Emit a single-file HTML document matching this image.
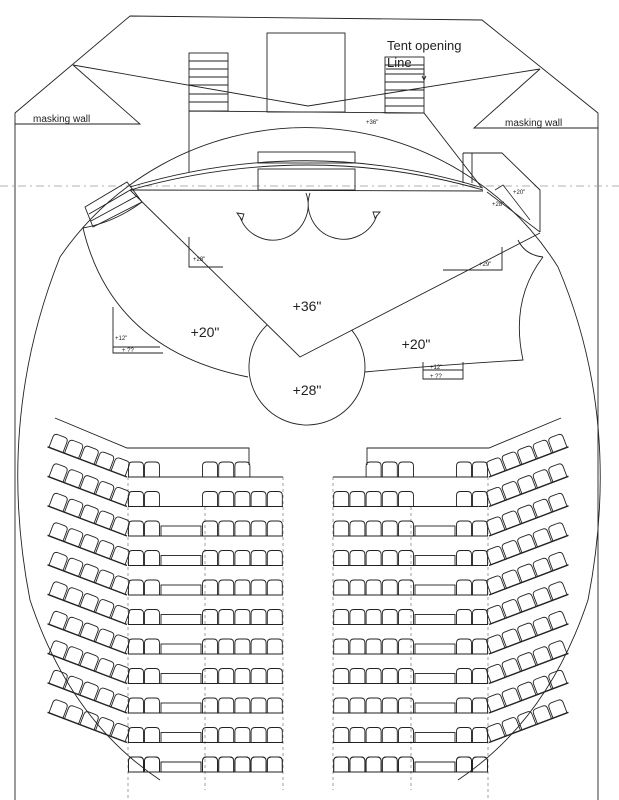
<!DOCTYPE html>
<html><head><meta charset="utf-8"><style>
html,body{margin:0;padding:0;background:#fff;}
svg{display:block;}
text{font-family:"Liberation Sans",sans-serif;fill:#222;}
</style></head><body>
<svg id="s" width="619" height="800" viewBox="0 0 619 800" xmlns="http://www.w3.org/2000/svg" fill="none" stroke="#222" stroke-width="0.9">
<defs>
<symbol id="seat" overflow="visible"><path d="M0.5,0 V-11 Q0.5,-15 4.5,-15 H11.5 Q15.5,-15 15.5,-11 V0"/></symbol>
</defs>
<path d="M130,16 L482,20 L598,113 L598,800 M130,16 L15,113 L15,800"/>
<path d="M0,186 H619" stroke="#999" stroke-dasharray="8,4,2,4" stroke-width="0.8"/>
<path d="M73,65 L308,106 L540,69"/>
<path d="M73,65 L140,124 L15,124"/>
<path d="M540,69 L474,128 L598,128"/>
<text x="33" y="122" font-size="10" stroke="none">masking wall</text>
<text x="505" y="126" font-size="10" stroke="none">masking wall</text>
<path d="M33,124 H100 M505,128 H580" stroke-width="0.8"/>
<rect x="189" y="53" width="39" height="58"/>
<path d="M189,61 H228 M189,69 H228 M189,77 H228 M189,85 H228 M189,94 H228 M189,102 H228"/>
<rect x="267" y="33" width="78" height="79"/>
<rect x="385" y="57" width="39" height="56"/>
<path d="M385,65 H424 M385,74 H424 M385,82 H424 M385,90 H424 M385,98 H424 M385,106 H424"/>
<text x="387" y="50" font-size="13" stroke="none">Tent opening</text>
<text x="387" y="67" font-size="13" stroke="none">Line</text>
<path d="M386,69 H424 V78 M422,76 L424,80 L426,76"/>
<path d="M189,111 L424,113 L482,188 M189,111 V172"/>
<text x="366" y="124" font-size="6" stroke="none">+36"</text>
<rect x="258" y="152" width="97" height="11"/>
<rect x="258" y="169" width="97" height="21"/>
<path d="M130,190 L483,191"/>
<path d="M130,187 Q308,134 483,188 M130,190 Q308,140 483,190"/>
<path d="M463,153 V183 M472,153 V183 M463,153 H502 L540,190 V232"/>
<text x="513" y="194" font-size="6" stroke="none">+20"</text>
<path d="M487,192 L540,232 M495,190 L503,185 L530,220" stroke-width="0.8"/>
<text x="492" y="206" font-size="6" stroke="none">+28"</text>
<path d="M85,207 L127,182 L142,202 L93,227 Z M89,214 L132,189 M91,221 L137,196"/>
<path d="M60,257 A298,298 0 0 1 558,267"/>
<path d="M60,257 Q-5,420 30,600 Q70,720 160,780"/>
<path d="M558,267 Q623,420 588,600 Q548,720 458,780"/>
<path d="M130,190 L300,357 L540,233"/>
<path d="M83,228 Q112,350 248,377"/>
<path d="M83,228 Q115,222 142,202"/>
<path d="M543,257 Q510,300 523,360 Q440,365 365,372"/>
<path d="M518,240 Q525,255 543,257"/>
<path d="M267.2,324.8 A58,58 0 1 0 351.8,330.2"/>
<path d="M306,193 A32,32 0 0 1 240,217 M310,193 A32,32 0 0 0 377,215"/>
<path d="M237,213 L242,220 L244,214 Z M380,212 L375,218 L373,212 Z"/>
<path d="M189,237 V267 H223"/>
<text x="193" y="261" font-size="6" stroke="none">+28"</text>
<path d="M443,270 H502 V247"/>
<text x="479" y="266" font-size="6" stroke="none">+29"</text>
<path d="M113,307 V353 H163 M113,347 H160"/>
<text x="115" y="340" font-size="6" stroke="none">+12"</text>
<text x="122" y="352" font-size="6" stroke="none">+ ??</text>
<path d="M423,362 V379 H463 V362 M423,370 H463"/>
<text x="430" y="369" font-size="6" stroke="none">+12"</text>
<text x="430" y="378" font-size="6" stroke="none">+ ??</text>
<text x="307" y="311" font-size="14" stroke="none" text-anchor="middle">+36"</text>
<text x="205" y="337" font-size="14" stroke="none" text-anchor="middle">+20"</text>
<text x="416" y="349" font-size="14" stroke="none" text-anchor="middle">+20"</text>
<text x="307" y="395" font-size="14" stroke="none" text-anchor="middle">+28"</text>
<g id="left"></g>
<g id="right" transform="translate(616,0) scale(-1,1)"></g>
</svg>
<script>
(function(){
var ns="http://www.w3.org/2000/svg";
function el(p,n,a){var e=document.createElementNS(ns,n);for(var k in a)e.setAttribute(k,a[k]);p.appendChild(e);return e;}
function build(g){
 el(g,"path",{d:"M55,418 L127,448 H249 V465"});
 el(g,"path",{d:"M128,477 V800 M283,477 V790 M205,507 V790",stroke:"#777","stroke-dasharray":"3,3","stroke-width":"0.7"});
 for(var k=0;k<12;k++){
  var y=(k<11)?477+29.5*k:772;
  if(k<11) el(g,"path",{d:"M128,"+y+" H283"});
  el(g,"use",{href:"#seat",x:128,y:y});
  el(g,"use",{href:"#seat",x:144,y:y});
  var n=(k==0)?3:5;
  for(var i=0;i<n;i++) el(g,"use",{href:"#seat",x:202+16.2*i,y:y});
  if(k>=2) el(g,"rect",{x:161,y:y-10,width:40,height:10});
  if(k<10){
   var gg=el(g,"g",{transform:"translate(127,"+y+") rotate(20.8) translate(-85,0)"});
   el(gg,"path",{d:"M0,0 H85","stroke-width":"1.4"});
   for(var j=0;j<5;j++) el(gg,"use",{href:"#seat",x:1+16.6*j,y:0});
  }
 }
}
build(document.getElementById("left"));
build(document.getElementById("right"));
})();
</script>
</body></html>
